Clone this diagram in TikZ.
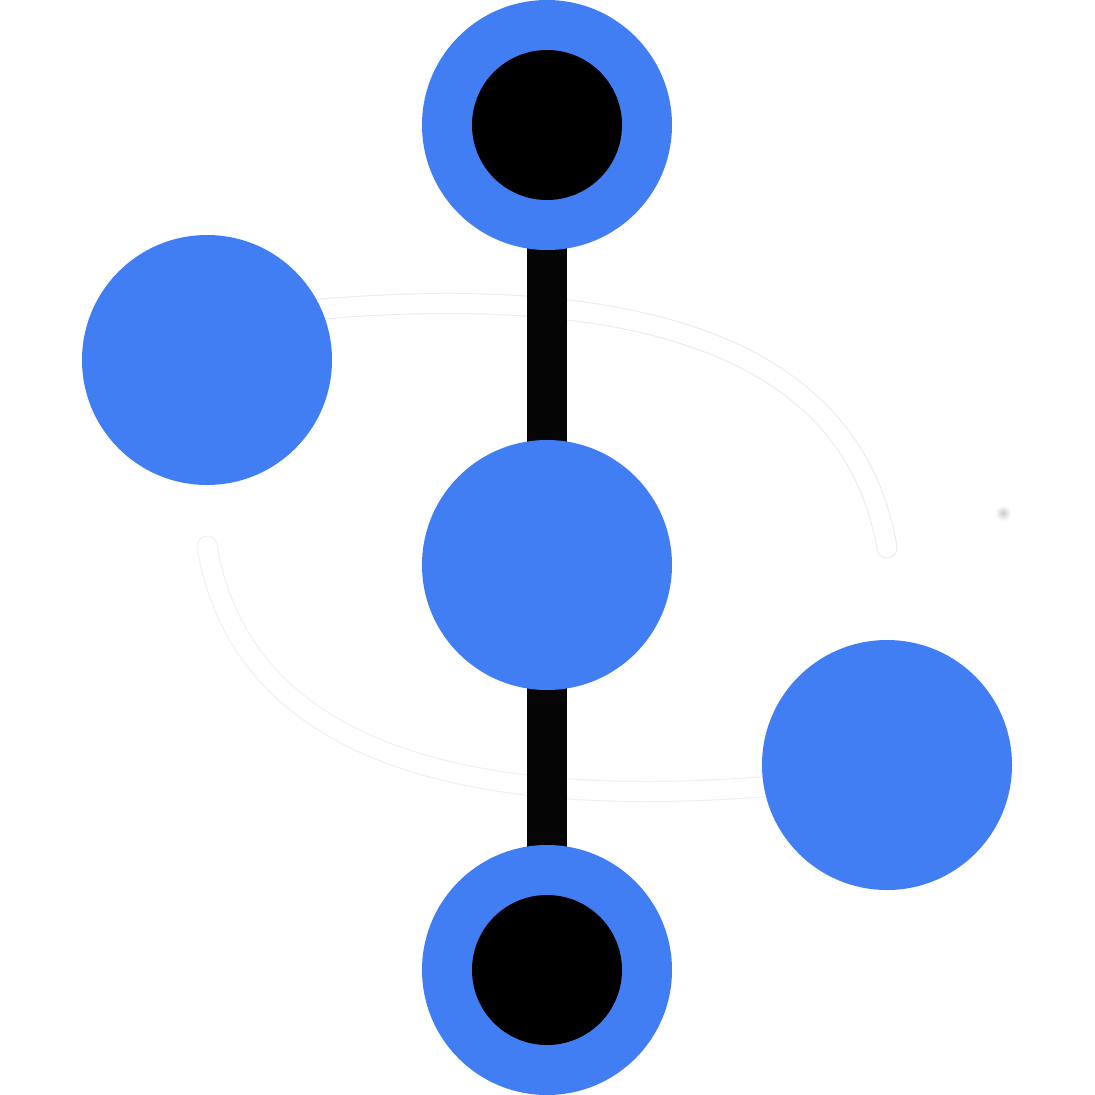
\documentclass[tikz,border=0pt]{standalone}
\usetikzlibrary{backgrounds}
\definecolor{nodeblue}{HTML}{417EF4}
\definecolor{barblack}{HTML}{050505}
\definecolor{trackedgeA}{HTML}{EBEBEB}
\definecolor{trackedgeB}{HTML}{EFEFEF}
\tikzset{
  bignode/.style={circle, fill=nodeblue, draw=none, inner sep=0pt, minimum size=250pt},
  corenode/.style={circle, fill=black, draw=none, inner sep=0pt, minimum size=150pt},
  barline/.style={draw=barblack, line width=40pt},
  trackouter/.style={line width=21pt, line cap=round},
  trackinner/.style={draw=white, line width=19pt, line cap=round},
}
\begin{document}
\begin{tikzpicture}[x=1pt,y=-1pt]
\useasboundingbox (0,0) rectangle (1095,1095);
% nodes
\node[bignode] (top) at (547,125) {};
\node[corenode] (topcore) at (547,125) {};
\node[bignode] (mid) at (547,565) {};
\node[bignode] (left) at (207,360) {};
\node[bignode] (right) at (887,765) {};
\node[bignode] (bot) at (547,970) {};
\node[corenode] (botcore) at (547,970) {};
% curve end points
\coordinate (uStart) at (220,320);
\coordinate (uEnd) at (887,548);
\coordinate (lStart) at (874,775);
\coordinate (lEnd) at (207,546);
\begin{scope}[on background layer]
  \fill[white] (0,0) rectangle (1095,1095);
  \draw[trackouter, draw=trackedgeA] (uStart) .. controls (600,270) and (850,330) .. (uEnd);
  \draw[trackinner] (uStart) .. controls (600,270) and (850,330) .. (uEnd);
  \draw[trackouter, draw=trackedgeB] (lStart) .. controls (494,825) and (244,765) .. (lEnd);
  \draw[trackinner] (lStart) .. controls (494,825) and (244,765) .. (lEnd);
  \draw[barline] (top.center) -- (mid.center);
  \draw[barline] (mid.center) -- (bot.center);
\end{scope}
% faint dot
\shade[inner color=black!20, outer color=white] (1003,513) circle (8pt);
\end{tikzpicture}
\end{document}
